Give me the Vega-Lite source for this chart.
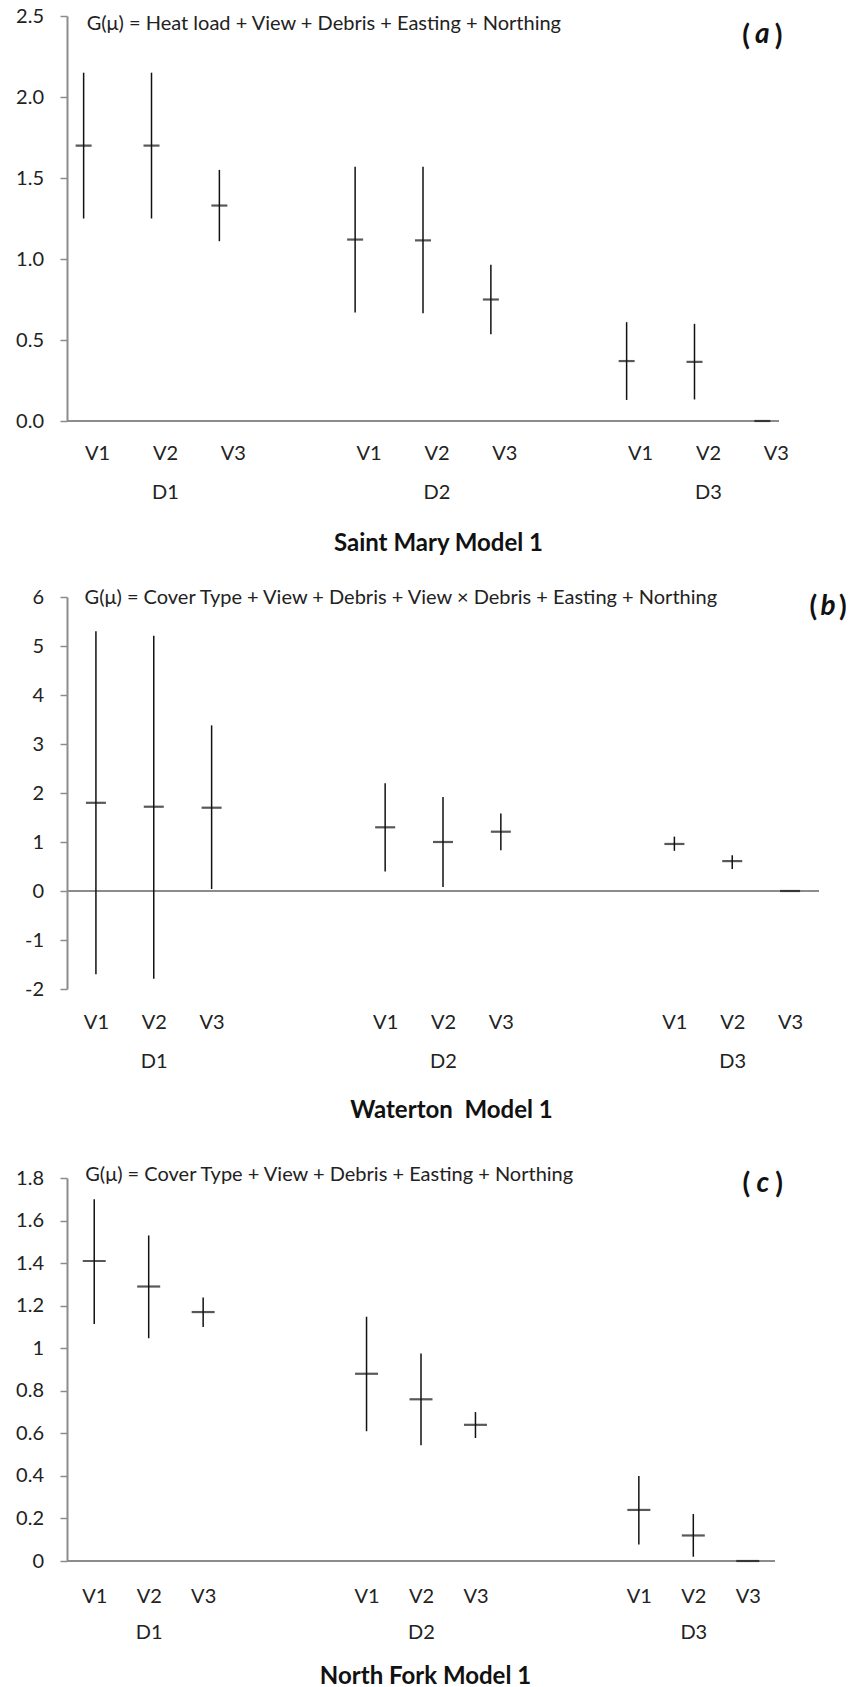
{
  "$schema": "https://vega.github.io/schema/vega-lite/v6.json",
  "padding": {"left": 15, "top": 6, "right": 0, "bottom": 0},
  "background": "white",
  "config": {
    "font": "Lato",
    "view": {"stroke": null},
    "axis": {"grid": false, "labelFont": "Lato", "titleFont": "Lato"},
    "concat": {"spacing": 32}
  },
  "datasets": {
    "est": [
      {"panel": "a", "cat": "D1 V1", "mean": 1.70, "lo": 1.25, "hi": 2.15},
      {"panel": "a", "cat": "D1 V2", "mean": 1.70, "lo": 1.25, "hi": 2.15},
      {"panel": "a", "cat": "D1 V3", "mean": 1.33, "lo": 1.11, "hi": 1.55},
      {"panel": "a", "cat": "D2 V1", "mean": 1.12, "lo": 0.67, "hi": 1.57},
      {"panel": "a", "cat": "D2 V2", "mean": 1.115, "lo": 0.665, "hi": 1.57},
      {"panel": "a", "cat": "D2 V3", "mean": 0.75, "lo": 0.535, "hi": 0.965},
      {"panel": "a", "cat": "D3 V1", "mean": 0.37, "lo": 0.13, "hi": 0.61},
      {"panel": "a", "cat": "D3 V2", "mean": 0.365, "lo": 0.133, "hi": 0.60},
      {"panel": "a", "cat": "D3 V3", "mean": 0, "lo": 0, "hi": 0},
      {"panel": "b", "cat": "D1 V1", "mean": 1.80, "lo": -1.70, "hi": 5.30},
      {"panel": "b", "cat": "D1 V2", "mean": 1.72, "lo": -1.79, "hi": 5.21},
      {"panel": "b", "cat": "D1 V3", "mean": 1.70, "lo": 0.04, "hi": 3.38},
      {"panel": "b", "cat": "D2 V1", "mean": 1.30, "lo": 0.40, "hi": 2.20},
      {"panel": "b", "cat": "D2 V2", "mean": 1.00, "lo": 0.08, "hi": 1.92},
      {"panel": "b", "cat": "D2 V3", "mean": 1.21, "lo": 0.83, "hi": 1.58},
      {"panel": "b", "cat": "D3 V1", "mean": 0.96, "lo": 0.82, "hi": 1.11},
      {"panel": "b", "cat": "D3 V2", "mean": 0.61, "lo": 0.45, "hi": 0.73},
      {"panel": "b", "cat": "D3 V3", "mean": 0, "lo": 0, "hi": 0},
      {"panel": "c", "cat": "D1 V1", "mean": 1.41, "lo": 1.114, "hi": 1.70},
      {"panel": "c", "cat": "D1 V2", "mean": 1.29, "lo": 1.047, "hi": 1.53},
      {"panel": "c", "cat": "D1 V3", "mean": 1.17, "lo": 1.10, "hi": 1.238},
      {"panel": "c", "cat": "D2 V1", "mean": 0.88, "lo": 0.61, "hi": 1.148},
      {"panel": "c", "cat": "D2 V2", "mean": 0.76, "lo": 0.544, "hi": 0.975},
      {"panel": "c", "cat": "D2 V3", "mean": 0.64, "lo": 0.578, "hi": 0.70},
      {"panel": "c", "cat": "D3 V1", "mean": 0.24, "lo": 0.077, "hi": 0.40},
      {"panel": "c", "cat": "D3 V2", "mean": 0.12, "lo": 0.02, "hi": 0.221},
      {"panel": "c", "cat": "D3 V3", "mean": 0, "lo": 0, "hi": 0}
    ]
  },
  "vconcat": [
    {
      "width": 712,
      "height": 405,
      "layer": [
        {"data": {"values": [{}]}, "mark": {"type": "rule", "color": "#8c8c8c", "strokeWidth": 2}, "encoding": {"y": {"datum": 0, "type": "quantitative"}}},
        {"data": {"name": "est"}, "transform": [{"filter": "datum.panel == 'a'"}], "mark": {"type": "rule", "color": "#111", "strokeWidth": 1.5},
          "encoding": {
            "x": {
              "field": "cat", "type": "nominal",
              "scale": {"type": "point", "padding": 0.245, "domain": ["D1 V1","D1 V2","D1 V3","g1","D2 V1","D2 V2","D2 V3","g2","D3 V1","D3 V2","D3 V3"]},
              "axis": {
                "title": "Saint Mary Model 1", "titleFontSize": 24, "titleFontWeight": "bold", "titleColor": "#111", "titlePadding": 29, "titleX": 371,
                "domain": false, "ticks": false, "tickSize": 0, "labelAngle": 0, "labelFontSize": 20, "labelColor": "#222", "labelPadding": 22, "labelOffset": 13.5, "labelLineHeight": 39, "labelBaseline": "top",
                "labelExpr": "indexof(datum.value, 'V') < 0 ? '' : (slice(datum.value, 3) == 'V2' ? [slice(datum.value, 3), slice(datum.value, 0, 2)] : slice(datum.value, 3))"
              }
            },
            "y": {"field": "lo", "type": "quantitative", "scale": {"domain": [0, 2.5], "nice": false, "zero": false},
              "axis": {"title": null, "domain": true, "values": [0, 0.5, 1, 1.5, 2, 2.5], "format": ".1f", "domainColor": "#8c8c8c", "domainWidth": 2, "tickColor": "#8c8c8c", "tickWidth": 1.5, "tickSize": 7, "labelPadding": 16.5, "labelFontSize": 20, "labelColor": "#222"}},
            "y2": {"field": "hi"}
          }},
        {"data": {"name": "est"}, "transform": [{"filter": "datum.panel == 'a'"}], "mark": {"type": "tick", "color": "#111", "size": 16, "thickness": 2.2},
          "encoding": {"x": {"field": "cat", "type": "nominal"}, "y": {"field": "mean", "type": "quantitative"}}},
        {"data": {"values": [{"t": "G(μ) = Heat load + View + Debris + Easting + Northing"}]}, "mark": {"type": "text", "align": "left", "baseline": "middle", "fontSize": 20, "color": "#222", "dx": 3, "dy": 7.7}, "encoding": {"x": {"datum": "D1 V1"}, "y": {"datum": 2.5}, "text": {"field": "t"}}},
        {"data": {"values": [{"t": "("}]}, "mark": {"type": "text", "align": "right", "baseline": "middle", "fontSize": 28, "fontWeight": "bold", "color": "#111", "dx": -12.5, "dy": 21}, "encoding": {"x": {"datum": "D3 V3"}, "y": {"datum": 2.5}, "text": {"field": "t"}}},
        {"data": {"values": [{"t": "a"}]}, "mark": {"type": "text", "align": "center", "baseline": "middle", "fontSize": 28, "fontWeight": "bold", "fontStyle": "italic", "color": "#111", "dx": 0, "dy": 19}, "encoding": {"x": {"datum": "D3 V3"}, "y": {"datum": 2.5}, "text": {"field": "t"}}},
        {"data": {"values": [{"t": ")"}]}, "mark": {"type": "text", "align": "left", "baseline": "middle", "fontSize": 28, "fontWeight": "bold", "color": "#111", "dx": 12.5, "dy": 21}, "encoding": {"x": {"datum": "D3 V3"}, "y": {"datum": 2.5}, "text": {"field": "t"}}}
      ]
    },
    {
      "width": 752,
      "height": 392,
      "layer": [
        {"data": {"values": [{}]}, "mark": {"type": "rule", "color": "#8c8c8c", "strokeWidth": 2}, "encoding": {"y": {"datum": 0, "type": "quantitative"}}},
        {"data": {"name": "est"}, "transform": [{"filter": "datum.panel == 'b'"}], "mark": {"type": "rule", "color": "#111", "strokeWidth": 1.5},
          "encoding": {
            "x": {
              "field": "cat", "type": "nominal",
              "scale": {"type": "point", "padding": 0.5, "domain": ["D1 V1","D1 V2","D1 V3","g1","g2","D2 V1","D2 V2","D2 V3","g3","g4","D3 V1","D3 V2","D3 V3"]},
              "axis": {
                "title": "Waterton\u00a0 Model 1", "titleFontSize": 24, "titleFontWeight": "bold", "titleColor": "#111", "titlePadding": 27.5, "titleX": 384,
                "domain": false, "ticks": false, "tickSize": 0, "labelAngle": 0, "labelFontSize": 20, "labelColor": "#222", "labelPadding": 23, "labelLineHeight": 39, "labelBaseline": "top",
                "labelExpr": "indexof(datum.value, 'V') < 0 ? '' : (slice(datum.value, 3) == 'V2' ? [slice(datum.value, 3), slice(datum.value, 0, 2)] : slice(datum.value, 3))"
              }
            },
            "y": {"field": "lo", "type": "quantitative", "scale": {"domain": [-2, 6], "nice": false, "zero": false},
              "axis": {"title": null, "domain": true, "values": [-2, -1, 0, 1, 2, 3, 4, 5, 6], "labelExpr": "datum.value < 0 ? '-' + abs(datum.value) : '' + datum.value", "domainColor": "#8c8c8c", "domainWidth": 2, "tickColor": "#8c8c8c", "tickWidth": 1.5, "tickSize": 7, "labelPadding": 16.5, "labelFontSize": 20, "labelColor": "#222"}},
            "y2": {"field": "hi"}
          }},
        {"data": {"name": "est"}, "transform": [{"filter": "datum.panel == 'b'"}], "mark": {"type": "tick", "color": "#111", "size": 20, "thickness": 2.2},
          "encoding": {"x": {"field": "cat", "type": "nominal"}, "y": {"field": "mean", "type": "quantitative"}}},
        {"data": {"values": [{"t": "G(μ) = Cover Type + View + Debris + View × Debris + Easting + Northing"}]}, "mark": {"type": "text", "align": "left", "baseline": "middle", "fontSize": 20, "color": "#222", "dx": -11.4, "dy": 1}, "encoding": {"x": {"datum": "D1 V1"}, "y": {"datum": 6}, "text": {"field": "t"}}},
        {"data": {"values": [{"t": "("}]}, "mark": {"type": "text", "align": "right", "baseline": "middle", "fontSize": 28, "fontWeight": "bold", "color": "#111", "dx": 27, "dy": 11}, "encoding": {"x": {"datum": "D3 V3"}, "y": {"datum": 6}, "text": {"field": "t"}}},
        {"data": {"values": [{"t": "b"}]}, "mark": {"type": "text", "align": "center", "baseline": "middle", "fontSize": 28, "fontWeight": "bold", "fontStyle": "italic", "color": "#111", "dx": 38, "dy": 10}, "encoding": {"x": {"datum": "D3 V3"}, "y": {"datum": 6}, "text": {"field": "t"}}},
        {"data": {"values": [{"t": ")"}]}, "mark": {"type": "text", "align": "left", "baseline": "middle", "fontSize": 28, "fontWeight": "bold", "color": "#111", "dx": 49, "dy": 11}, "encoding": {"x": {"datum": "D3 V3"}, "y": {"datum": 6}, "text": {"field": "t"}}}
      ]
    },
    {
      "width": 708,
      "height": 383,
      "layer": [
        {"data": {"values": [{}]}, "mark": {"type": "rule", "color": "#8c8c8c", "strokeWidth": 2}, "encoding": {"y": {"datum": 0, "type": "quantitative"}}},
        {"data": {"name": "est"}, "transform": [{"filter": "datum.panel == 'c'"}], "mark": {"type": "rule", "color": "#111", "strokeWidth": 1.5},
          "encoding": {
            "x": {
              "field": "cat", "type": "nominal",
              "scale": {"type": "point", "padding": 0.5, "domain": ["D1 V1","D1 V2","D1 V3","g1","g2","D2 V1","D2 V2","D2 V3","g3","g4","D3 V1","D3 V2","D3 V3"]},
              "axis": {
                "title": "North Fork Model 1", "titleFontSize": 24, "titleFontWeight": "bold", "titleColor": "#111", "titlePadding": 22.3, "titleX": 358,
                "domain": false, "ticks": false, "tickSize": 0, "labelAngle": 0, "labelFontSize": 20, "labelColor": "#222", "labelPadding": 25.2, "labelLineHeight": 36, "labelBaseline": "top",
                "labelExpr": "indexof(datum.value, 'V') < 0 ? '' : (slice(datum.value, 3) == 'V2' ? [slice(datum.value, 3), slice(datum.value, 0, 2)] : slice(datum.value, 3))"
              }
            },
            "y": {"field": "lo", "type": "quantitative", "scale": {"domain": [0, 1.8], "nice": false, "zero": false},
              "axis": {"title": " ", "titleAngle": 0, "titleX": 0, "titleY": -22.5, "titleBaseline": "top", "titleAlign": "left", "titleFontSize": 10, "domain": true, "values": [0, 0.2, 0.4, 0.6, 0.8, 1, 1.2, 1.4, 1.6, 1.8], "format": ".1~f", "domainColor": "#8c8c8c", "domainWidth": 2, "tickColor": "#8c8c8c", "tickWidth": 1.5, "tickSize": 7, "labelPadding": 16.5, "labelFontSize": 20, "labelColor": "#222"}},
            "y2": {"field": "hi"}
          }},
        {"data": {"name": "est"}, "transform": [{"filter": "datum.panel == 'c'"}], "mark": {"type": "tick", "color": "#111", "size": 23, "thickness": 2.2},
          "encoding": {"x": {"field": "cat", "type": "nominal"}, "y": {"field": "mean", "type": "quantitative"}}},
        {"data": {"values": [{"t": "G(μ) = Cover Type + View + Debris + Easting + Northing"}]}, "mark": {"type": "text", "align": "left", "baseline": "middle", "fontSize": 20, "color": "#222", "dx": -9, "dy": -3}, "encoding": {"x": {"datum": "D1 V1"}, "y": {"datum": 1.8}, "text": {"field": "t"}}},
        {"data": {"values": [{"t": "("}]}, "mark": {"type": "text", "align": "right", "baseline": "middle", "fontSize": 28, "fontWeight": "bold", "color": "#111", "dx": 2.5, "dy": 7}, "encoding": {"x": {"datum": "D3 V3"}, "y": {"datum": 1.8}, "text": {"field": "t"}}},
        {"data": {"values": [{"t": "c"}]}, "mark": {"type": "text", "align": "center", "baseline": "middle", "fontSize": 28, "fontWeight": "bold", "fontStyle": "italic", "color": "#111", "dx": 15, "dy": 6}, "encoding": {"x": {"datum": "D3 V3"}, "y": {"datum": 1.8}, "text": {"field": "t"}}},
        {"data": {"values": [{"t": ")"}]}, "mark": {"type": "text", "align": "left", "baseline": "middle", "fontSize": 28, "fontWeight": "bold", "color": "#111", "dx": 27.5, "dy": 7}, "encoding": {"x": {"datum": "D3 V3"}, "y": {"datum": 1.8}, "text": {"field": "t"}}}
      ]
    }
  ]
}
